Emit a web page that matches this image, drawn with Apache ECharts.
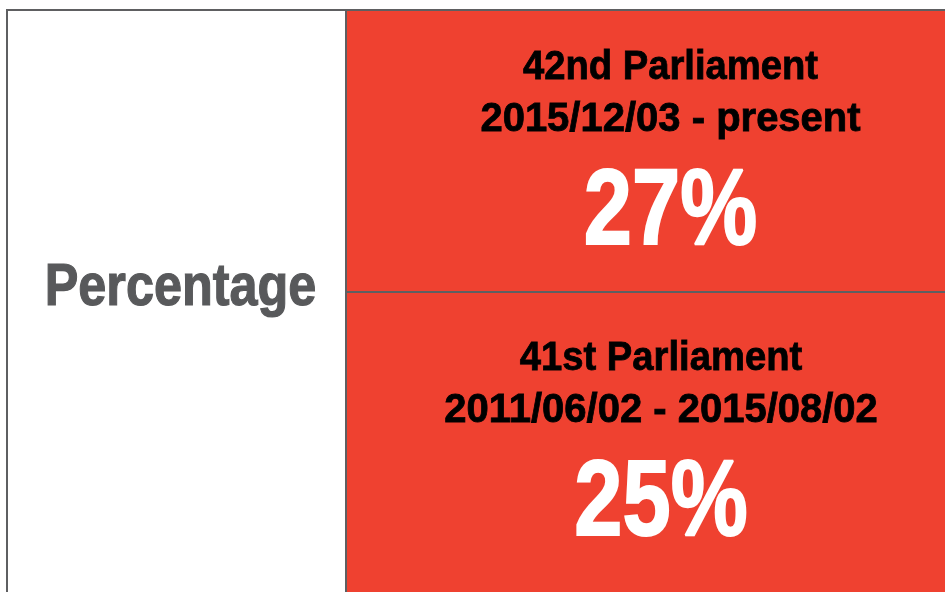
<!DOCTYPE html>
<html>
<head>
<meta charset="utf-8">
<style>
  html, body { margin: 0; padding: 0; background: #ffffff; }
  #chart { width: 945px; height: 592px; }
</style>
<script src="https://cdn.jsdelivr.net/npm/echarts@6/dist/echarts.min.js"></script>
</head>
<body>
<div id="chart"></div>
<script>
// ---- data ----
const metricLabel = 'Percentage';
const parliaments = ['42nd Parliament', '41st Parliament'];
const periods = ['2015/12/03 - present', '2011/06/02 - 2015/08/02'];
const percentages = [27, 25];

// ---- style ----
const RED = '#EF4130';
const BORDER = '#5e5f61';
const GREY_TEXT = '#58595B';
const FONT = "'Liberation Sans', Arial, sans-serif";
const rowTextShift = [1, -8.5];

const chart = echarts.init(document.getElementById('chart'), null, { renderer: 'canvas' });

function txt(text, x, y, size, color, scaleX, weight) {
  return {
    type: 'text', x: x, y: y, scaleX: scaleX, scaleY: 1,
    style: {
      text: text, x: 0, y: 0, fill: color,
      stroke: color, lineWidth: weight,
      font: 'bold ' + size + 'px ' + FONT,
      align: 'center', verticalAlign: 'middle'
    }
  };
}

function renderLabelCell(params, api) {
  const c = api.coord([0, 0]);
  const s = api.size([1, 1]);
  const x = c[0] - s[0] / 2;
  const y = c[1] - s[1] / 2;
  const h = api.getHeight() - y;
  const cy = y + s[1] / 2;
  return {
    type: 'group',
    children: [
      { type: 'rect', shape: { x: x, y: y, width: s[0], height: h }, style: { fill: '#ffffff' } },
      { type: 'line', shape: { x1: x - 1, y1: y, x2: x + s[0], y2: y }, style: { stroke: BORDER, lineWidth: 2 } },
      { type: 'line', shape: { x1: x, y1: y, x2: x, y2: api.getHeight() }, style: { stroke: BORDER, lineWidth: 2 } },
      txt(metricLabel, c[0] + 4, cy - 4, 60, GREY_TEXT, 0.84, 1.2)
    ]
  };
}

function renderValueCell(params, api) {
  const row = params.dataIndex;
  const isLast = row === parliaments.length - 1;
  const c = api.coord([0, row]);
  const s = api.size([1, 1]);
  const x = c[0] - s[0] / 2;
  const y = c[1] - s[1] / 2;
  const w = s[0];
  const h = isLast ? Math.max(s[1], api.getHeight() - y) : s[1];
  const cx = x + w / 2 + rowTextShift[row];
  const cy = y + h / 2;
  return {
    type: 'group',
    children: [
      { type: 'rect', shape: { x: x, y: y, width: w, height: h }, style: { fill: RED } },
      { type: 'line', shape: { x1: x, y1: y, x2: x + w, y2: y }, style: { stroke: BORDER, lineWidth: 2 } },
      { type: 'line', shape: { x1: x, y1: y, x2: x, y2: y + h }, style: { stroke: BORDER, lineWidth: 2 } },
      txt(parliaments[row], cx, cy - 83, 40, '#000000', 0.955, 0.8),
      txt(periods[row], cx, cy - 31, 40, '#000000', 1.0, 0.8),
      txt(api.value(1) + '%', cx, cy + 63, 107, '#ffffff', 0.81, 2)
    ]
  };
}

const valueData = percentages.map((v, i) => [0, v, i]);

chart.setOption({
  animation: false,
  grid: [
    { left: 7, top: 10, width: 339, height: 564, outerBoundsMode: 'none', containLabel: false },
    { left: 346, top: 10, width: 647, height: 564, outerBoundsMode: 'none', containLabel: false }
  ],
  xAxis: [
    { type: 'category', gridIndex: 0, data: ['label'], show: false },
    { type: 'category', gridIndex: 1, data: ['value'], show: false }
  ],
  yAxis: [
    { type: 'category', gridIndex: 0, data: [metricLabel], show: false, inverse: true },
    { type: 'category', gridIndex: 1, data: parliaments, show: false, inverse: true }
  ],
  series: [
    {
      type: 'custom', xAxisIndex: 0, yAxisIndex: 0, clip: false,
      renderItem: renderLabelCell,
      data: [[0, 0]]
    },
    {
      type: 'custom', xAxisIndex: 1, yAxisIndex: 1, clip: false,
      renderItem: renderValueCell,
      encode: { x: 0, y: 2 },
      data: valueData
    }
  ]
});
</script>
</body>
</html>
